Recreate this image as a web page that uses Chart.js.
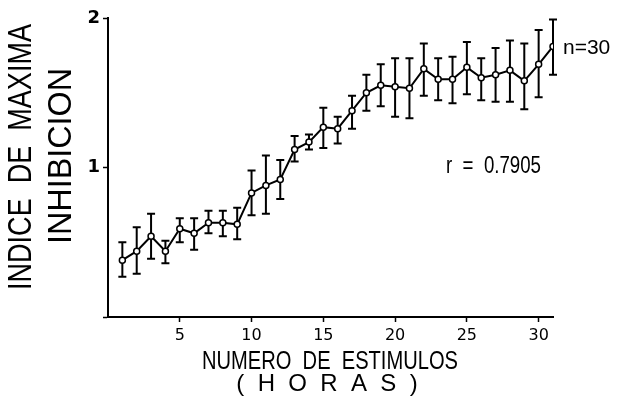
<!DOCTYPE html>
<html>
<head>
<meta charset="utf-8">
<script src="https://cdn.jsdelivr.net/npm/chart.js@4/dist/chart.umd.min.js"></script>
<style>
  html, body { margin: 0; padding: 0; background: #fff; }
  #wrap { width: 618px; height: 403px; }
</style>
</head>
<body>
<div id="wrap"><canvas id="chart" width="618" height="403"></canvas></div>
<script>
// data (mean, upper and lower end of each error bar)
var hours = [1,2,3,4,5,6,7,8,9,10,11,12,13,14,15,16,17,18,19,20,21,22,23,24,25,26,27,28,29,30,31];
var means = [0.38,0.44,0.54,0.44,0.59,0.56,0.63,0.63,0.62,0.83,0.88,0.92,1.12,1.17,1.27,1.26,1.38,1.50,1.55,1.54,1.53,1.66,1.59,1.59,1.67,1.60,1.62,1.65,1.58,1.69,1.81];
var upper = [0.50,0.60,0.69,0.51,0.66,0.66,0.71,0.71,0.73,0.98,1.08,1.05,1.21,1.22,1.40,1.34,1.48,1.62,1.69,1.73,1.73,1.83,1.73,1.74,1.84,1.73,1.80,1.85,1.83,1.92,1.99];
var lower = [0.27,0.29,0.39,0.36,0.50,0.45,0.56,0.54,0.52,0.68,0.69,0.79,1.04,1.12,1.13,1.16,1.26,1.38,1.41,1.34,1.33,1.48,1.45,1.43,1.49,1.45,1.44,1.44,1.39,1.47,1.62];
var xTicks = [5,10,15,20,25,30];
var yTicks = [0,1,2];

var yTitle = ['INDICE  DE  MAXIMA', 'INHIBICION'];
var xTitle = ['NUMERO  DE  ESTIMULOS', '(  H  O  R  A  S  )'];
var rText = 'r  =  0.7905';
var nText = 'n=30';

var points = [];
for (var i = 0; i < hours.length; i++) {
    points.push({x: hours[i], y: means[i]});
}

// error bars, drawn with the chart scales
var errorBars = {
    id: 'errorBars',
    beforeDatasetsDraw: function(chart) {
        var ctx = chart.ctx;
        var xs = chart.scales.x, ys = chart.scales.y;
        ctx.save();
        ctx.strokeStyle = '#000';
        ctx.lineWidth = 2;
        for (var i = 0; i < hours.length; i++) {
            var px = xs.getPixelForValue(hours[i]);
            var pt = ys.getPixelForValue(upper[i]);
            var pb = ys.getPixelForValue(lower[i]);
            ctx.beginPath();
            ctx.moveTo(px, pt); ctx.lineTo(px, pb);
            ctx.moveTo(px - 4, pt); ctx.lineTo(px + 4, pt);
            ctx.moveTo(px - 4, pb); ctx.lineTo(px + 4, pb);
            ctx.stroke();
        }
        ctx.restore();
    }
};

// titles and notes
var labels = {
    id: 'labels',
    afterDraw: function(chart) {
        var ctx = chart.ctx;
        ctx.save();
        ctx.fillStyle = '#000';
        ctx.textAlign = 'center';
        ctx.textBaseline = 'middle';
        var f = '"Liberation Sans", Arial, sans-serif';

        // y title, rotated
        ctx.save();
        ctx.translate(22, 157);
        ctx.rotate(-Math.PI / 2);
        ctx.font = '33px ' + f;
        ctx.fillText(yTitle[0], 0, 0, 266);
        ctx.restore();
        ctx.save();
        ctx.translate(62, 156);
        ctx.rotate(-Math.PI / 2);
        ctx.font = '33px ' + f;
        ctx.fillText(yTitle[1], 0, 0, 176);
        ctx.restore();

        // x title
        ctx.font = '25px ' + f;
        ctx.fillText(xTitle[0], 330, 362, 256);
        ctx.font = '24px ' + f;
        ctx.fillText(xTitle[1], 327, 384, 192);

        // notes
        ctx.textAlign = 'left';
        ctx.font = '24px ' + f;
        ctx.fillText(rText, 446, 166, 95);
        ctx.font = '21px ' + f;
        ctx.fillText(nText, 563, 48, 52);
        ctx.restore();
    }
};

new Chart(document.getElementById('chart'), {
    type: 'line',
    data: {
        datasets: [{
            data: points,
            borderColor: '#000',
            borderWidth: 2,
            tension: 0,
            pointRadius: 3,
            pointBorderWidth: 1.5,
            pointBackgroundColor: '#fff',
            pointBorderColor: '#000'
        }]
    },
    options: {
        responsive: false,
        animation: false,
        layout: { padding: { left: 0, right: 65, top: 18, bottom: 0 } },
        plugins: { legend: { display: false }, tooltip: { enabled: false } },
        scales: {
            x: {
                type: 'linear',
                min: 0,
                max: 31,
                afterBuildTicks: function(s) { s.ticks = xTicks.map(function(v) { return {value: v}; }); },
                afterFit: function(s) { s.height = 86; },
                grid: { display: true, drawOnChartArea: false, drawTicks: true, tickLength: 5, color: '#000', tickWidth: 1.5 },
                border: { display: true, color: '#000', width: 2 },
                ticks: { color: '#000', padding: 4, font: { family: 'DejaVu Sans', size: 16 }, maxRotation: 0 }
            },
            y: {
                type: 'linear',
                min: 0,
                max: 2,
                afterBuildTicks: function(s) { s.ticks = yTicks.map(function(v) { return {value: v}; }); },
                afterFit: function(s) { s.width = 108; },
                grid: { display: true, drawOnChartArea: false, drawTicks: true, tickLength: 5, color: '#000', tickWidth: 1.5 },
                border: { display: true, color: '#000', width: 2 },
                ticks: {
                    color: '#000', padding: 3,
                    font: { family: 'DejaVu Sans', size: 18, weight: 'bold' },
                    callback: function(v) { return v === 0 ? '' : String(v); }
                }
            }
        }
    },
    plugins: [errorBars, labels]
});
</script>
</body>
</html>
